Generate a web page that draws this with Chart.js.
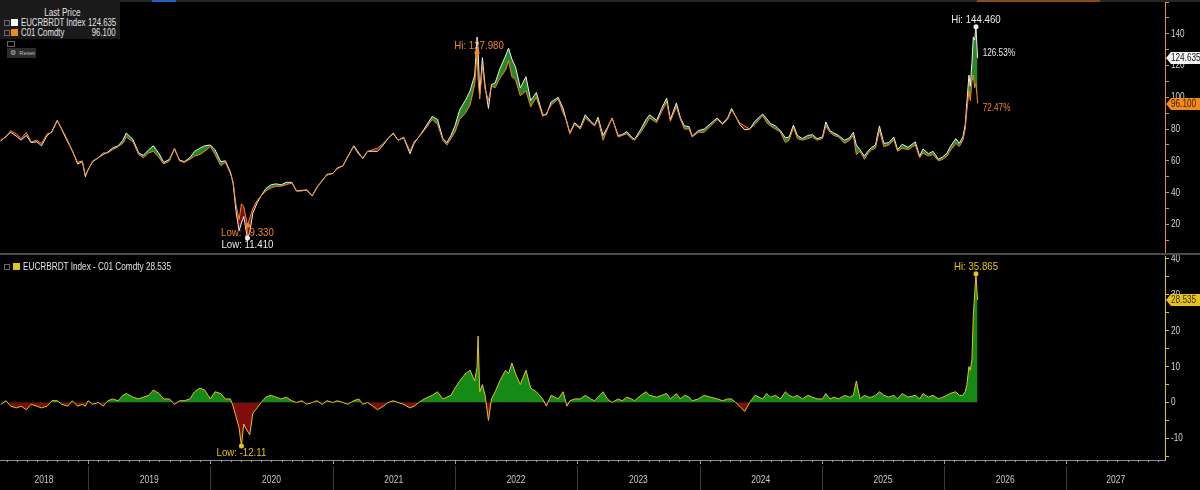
<!DOCTYPE html>
<html>
<head>
<meta charset="utf-8">
<script src="https://cdn.jsdelivr.net/npm/chart.js"></script>
<style>
  html, body { margin: 0; padding: 0; background: #000; }
  body { width: 1200px; height: 490px; position: relative; overflow: hidden;
         font-family: 'Liberation Sans', Arial, sans-serif; }
  canvas { position: absolute; left: 0; }
  #topChart { top: 0; }
  #bottomChart { top: 254px; }
  .abs { position: absolute; }
  .cn { display: inline-block; white-space: nowrap; transform: scaleX(0.78); transform-origin: 0 50%; }
  #lastPrice { left: 0; top: 0; width: 120px; height: 39px; background: #1a1a1a; color: #e4e4e4; }
  #lastPrice .hdr { left: 0; width: 124px; top: 7px; text-align: center; font-size: 10.5px; line-height: 11px; }
  #lastPrice .hdr .cn { transform-origin: 50% 50%; }
  .row { left: 0; width: 116px; height: 10px; font-size: 10px; line-height: 10px; color: #e4e4e4; }
  .row .name { position: absolute; left: 21px; top: 0; }
  .row .val { position: absolute; right: 0; top: 0; transform-origin: 100% 50%; }
  .chk { position: absolute; left: 4px; top: 2px; width: 4px; height: 4px; border: 1px solid #6a6a6a; }
  .sw { position: absolute; left: 11px; top: 1px; width: 7px; height: 7px; }
  #reset { left: 7px; top: 48px; width: 29px; height: 10px; background: #2b2b2b; color: #bbb; font-size: 6px; line-height: 10px; }
  #sep { left: 0; top: 253px; width: 1200px; height: 2px; background: #4b4b4b; }
</style>
</head>
<body>
<canvas id="topChart" width="1200" height="254"></canvas>
<canvas id="bottomChart" width="1200" height="236"></canvas>

<div class="abs" style="left:0;top:0;width:1200px;height:2px;background:#262626"></div>
<div class="abs" style="left:152px;top:0;width:24px;height:2px;background:#2160c4"></div>
<div class="abs" style="left:977px;top:0;width:123px;height:2px;background:#8a4a16"></div>
<div id="sep" class="abs"></div>

<div id="lastPrice" class="abs">
  <div class="hdr abs"><span class="cn">Last Price</span></div>
</div>
<div class="abs" style="left:7px;top:41px;width:6px;height:4px;border:1px solid #666"></div>
<div id="reset" class="abs"><span style="font-size:7px;margin-left:3px">&#9881;</span>&nbsp;&nbsp;Reset</div>

<script>
// ---- data ----
const dates = [
  '2018-04-15','2018-05-01','2018-05-15','2018-06-01','2018-06-15','2018-07-01','2018-07-15','2018-08-01','2018-08-15','2018-09-01','2018-09-15','2018-10-01','2018-10-15','2018-11-01','2018-11-15','2018-12-01','2018-12-15','2018-12-24',
  '2019-01-01','2019-01-15','2019-02-01','2019-02-15','2019-03-01','2019-03-15','2019-04-01','2019-04-15','2019-04-25','2019-05-15','2019-06-01','2019-06-15','2019-07-01','2019-07-15','2019-08-01','2019-08-15','2019-09-01','2019-09-16','2019-10-01','2019-10-15','2019-11-01','2019-11-15','2019-12-01','2019-12-15',
  '2020-01-01','2020-01-15','2020-02-01','2020-02-15','2020-03-01','2020-03-09','2020-03-18','2020-03-27','2020-04-03','2020-04-10','2020-04-21','2020-04-28','2020-05-07','2020-05-20','2020-06-01','2020-06-15','2020-07-01','2020-07-15','2020-08-01','2020-08-15','2020-09-01','2020-09-15','2020-10-01','2020-10-15','2020-11-01','2020-11-15','2020-12-01','2020-12-15',
  '2021-01-01','2021-01-15','2021-02-01','2021-02-15','2021-03-05','2021-03-20','2021-04-01','2021-04-15','2021-05-01','2021-05-15','2021-06-01','2021-06-15','2021-07-01','2021-07-15','2021-08-01','2021-08-20','2021-09-01','2021-09-15','2021-10-01','2021-10-25','2021-11-10','2021-11-26','2021-12-08','2021-12-20',
  '2022-01-01','2022-01-15','2022-02-01','2022-02-15','2022-03-01','2022-03-08','2022-03-11','2022-03-16','2022-03-24','2022-04-01','2022-04-11','2022-04-20','2022-05-01','2022-05-15','2022-06-01','2022-06-10','2022-06-20','2022-07-01','2022-07-15','2022-08-01','2022-08-15','2022-09-01','2022-09-20','2022-10-01','2022-10-15','2022-11-05','2022-11-20','2022-12-01','2022-12-10','2022-12-24',
  '2023-01-10','2023-01-25','2023-02-10','2023-02-22','2023-03-04','2023-03-19','2023-04-01','2023-04-15','2023-05-03','2023-05-15','2023-05-29','2023-06-12','2023-06-21','2023-07-10','2023-07-25','2023-08-05','2023-08-26','2023-09-10','2023-09-25','2023-10-06','2023-10-24','2023-11-05','2023-11-17','2023-12-01','2023-12-10','2023-12-28',
  '2024-01-15','2024-02-03','2024-02-23','2024-03-10','2024-03-25','2024-04-06','2024-04-18','2024-04-30','2024-05-15','2024-05-30','2024-06-15','2024-07-08','2024-07-20','2024-07-31','2024-08-15','2024-08-30','2024-09-14','2024-09-25','2024-10-08','2024-10-20','2024-11-04','2024-11-20','2024-12-04','2024-12-18',
  '2025-01-03','2025-01-13','2025-01-25','2025-02-06','2025-02-20','2025-03-10','2025-03-25','2025-04-05','2025-04-14','2025-04-25','2025-05-08','2025-05-20','2025-05-30','2025-06-10','2025-06-22','2025-07-05','2025-07-20','2025-08-04','2025-08-15','2025-08-29','2025-09-15','2025-10-07','2025-10-20','2025-10-30','2025-11-15','2025-11-29','2025-12-15','2025-12-28',
  '2026-01-10','2026-01-18','2026-02-05','2026-02-15','2026-02-26','2026-03-05','2026-03-10','2026-03-16','2026-03-20','2026-03-25','2026-03-29','2026-04-02','2026-04-06','2026-04-09','2026-04-11'
];

// C01 Comdty (orange)
const brent = [
  73,75,79,77,74,78,72,73,71,77,78,85,80,73,66,59,60,51,
  54,60,62,65,65,67,69,71,75,72,64,62,65,66,62,58,60,68,60,59,61,63,64,66,
  69,64,57,59,52,47,32,23,33,31,19.33,24,30,35,38,41,43,44,44,45,46,41,41,42,38,43,48,51,
  52,55,57,63,69,64,62,66,67,68,71,74,77,73,75,66,72,75,79,86,83,73,70,74,
  78,86,90,95,108,127.98,112,99,120,105,98,107,106,112,117,123,113,111,101,104,94,100,88,90,95,99,90,85,77,83,
  80,87,84,82,86,73,80,87,75,76,77,74,73,78,83,87,84,91,97,85,94,86,80,80,75,78,
  78,82,86,83,86,92,88,84,82,80,83,88.5,84,82,80,78,71.5,73,81,74,73,74,75,73,
  74,82,78,76,75,71,73,76,64,66,61,65,67,68,79,69,70,73,66,68,67,70,62,65,63,64,60,61,
  63,66,71,69,73,80,92,104,98,110,114,106,108.595,101,96.1
];

// EUCRBRDT Index (white)
const eucrbrdt = [
  72.5,75.5,78,75.5,73,76,71.5,72,69.5,76,78.5,85.5,79.5,72,66.5,58,59.5,50,
  54.5,59.5,62,64,65.5,68,69.5,73,77.5,73.5,65,63.5,67,69.5,64.5,59,61,67.5,60.5,59.5,62,66,68,69.5,
  70,67,59.5,60,53,46,28,16,20.89,25,11.41,15,27,33.5,38,42.5,45,45.5,45,46.5,46.5,41,41.5,41.5,38,43.5,47.5,51.5,
  52,55.5,57,62.5,69.5,65,61.5,66,66,66,70,74,77.5,73,74.5,64.5,71,75,80,88,86,74,71.5,76,
  82,92,98,104,114,137.98,130.5,102,125,107,93,108,109,118,126,131,124,119,106,113,98,103,89,89,97,100,93,84,77.5,84,
  81,89,85,82.5,87.5,76,81,87,76,76.5,78.5,75,73.5,80,86,89,85.5,93,99.5,86,96.5,87,82,81.5,75.5,79,
  80,83.5,87,83.5,87,93,88,83,79.5,80,85,89.5,86.5,83.5,82,79,74.5,75,82.5,76,74,76,76.5,74,
  75,84.5,79,77.5,76,73,74.5,78,70,67,63,66.5,68.5,70,82,71,71.5,75,67,70.5,68.5,72,63,67.5,64.5,66,61,62.5,
  65,68.5,74,71,75,83,97,114,107,122,138,136,144.46,132,124.635
];

// EUCRBRDT Index - C01 Comdty
const spread = [
  -0.5,0.5,-1,-1.5,-1,-2,-0.5,-1,-1.5,-1,0.5,0.5,-0.5,-1,0.5,-1,-0.5,-1,
  0.5,-0.5,0,-1,0.5,1,0.5,2,2.5,1.5,1,1.5,2,3.5,2.5,1,1,-0.5,0.5,0.5,1,3,4,3.5,
  1,3,2.5,1,1,-1,-4,-7,-12.11,-6,-7.92,-9,-3,-1.5,0,1.5,2,1.5,1,1.5,0.5,0,0.5,-0.5,0,0.5,-0.5,0.5,
  0,0.5,0,-0.5,0.5,1,-0.5,0,-1,-2,-1,0,0.5,0,-0.5,-1.5,-1,0,1,2,3,1,1.5,2,
  4,6,8,9,6,10,18.5,3,5,2,-5,1,3,6,9,8,11,8,5,9,4,3,1,-1,2,1,3,-1,0.5,1,
  1,2,1,0.5,1.5,3,1,0,1,0.5,1.5,1,0.5,2,3,2,1.5,2,2.5,1,2.5,1,2,1.5,0.5,1,
  2,1.5,1,0.5,1,1,0,-1,-2.5,0,2,1,2.5,1.5,2,1,3,2,1.5,2,1,2,1.5,1,
  1,2.5,1,1.5,1,2,1.5,2,6,1,2,1.5,1.5,2,3,2,1.5,2,1,2.5,1.5,2,1,2.5,1.5,2,1,1.5,
  2,2.5,3,2,2,3,5,10,9,12,24,30,35.865,31,28.535
];

const seriesNames = ['EUCRBRDT Index', 'C01 Comdty'];
const spreadName = 'EUCRBRDT Index - C01 Comdty';
const pctLabels = ['126.53%', '72.47%'];
const yearLabels = ['2018','2019','2020','2021','2022','2023','2024','2025','2026','2027'];
const topTicks = [10,20,30,40,50,60,70,80,90,100,110,120,130,140,150,160];
const topLabels = [20,40,60,80,100,120,140];
const bottomTicks = [-15,-10,-5,0,5,10,15,20,25,30,35,40];
const bottomLabels = [-10,0,10,20,30,40];

// ---- styling ----
const FONT = "'Liberation Sans', Arial, sans-serif";
const NARROW = 0.78;   // squeeze to mimic the terminal's condensed face
const ORANGE = '#f08a1e';
const WHITE = '#ececec';
const YELLOW = '#e6c21c';
const GREEN_TOP = 'rgba(46,150,40,0.9)';
const GREEN = 'rgb(22,138,22)';
const RED = 'rgb(128,12,14)';
const X_MIN = 2018.28;
const X_MAX = 2027.806;

function toYear(s) {
  const d = new Date(s + 'T00:00:00Z');
  const y = d.getUTCFullYear();
  const a = Date.UTC(y, 0, 1), b = Date.UTC(y + 1, 0, 1);
  return y + (d.getTime() - a) / (b - a);
}
function points(vals) {
  return dates.map((d, i) => ({ x: toYear(d), y: vals[i] }));
}

function narrowText(ctx, text, x, y, size, color, align, sx) {
  ctx.save();
  ctx.font = size + 'px ' + FONT;
  ctx.fillStyle = color;
  ctx.textAlign = align || 'left';
  ctx.textBaseline = 'middle';
  ctx.translate(x, y);
  ctx.scale(sx || NARROW, 1);
  ctx.fillText(text, 0, 0);
  ctx.restore();
}

// legends as real text
function addRow(parent, top, color, name, value) {
  const row = document.createElement('div');
  row.className = 'row abs';
  row.style.top = top + 'px';
  row.innerHTML = '<div class="chk"></div><div class="sw" style="background:' + color + '"></div>' +
    '<span class="name cn"></span><span class="val cn"></span>';
  row.querySelector('.name').textContent = name;
  row.querySelector('.val').textContent = value;
  parent.appendChild(row);
}
const lp = document.getElementById('lastPrice');
addRow(lp, 18, '#ffffff', seriesNames[0], eucrbrdt[eucrbrdt.length - 1].toFixed(3));
addRow(lp, 28, ORANGE, seriesNames[1], brent[brent.length - 1].toFixed(3));

const sl = document.createElement('div');
sl.className = 'row abs';
sl.style.cssText = 'top:262px;width:200px;';
sl.innerHTML = '<div class="chk"></div><div class="sw" style="background:' + YELLOW + ';top:1px;left:13px"></div><span class="name cn" style="left:23px;transform:scaleX(0.82)"></span>';
sl.querySelector('.name').textContent = spreadName + ' ' + spread[spread.length - 1].toFixed(3);
document.body.appendChild(sl);

// ---- plugins ----
const markerPlugin = {
  id: 'markers',
  afterDatasetsDraw(chart, args, opts) {
    const ctx = chart.ctx, xs = chart.scales.x, ys = chart.scales.y;
    (opts.items || []).forEach(m => {
      const pts = chart.data.datasets[m.dataset].data;
      let best = 0;
      pts.forEach((p, i) => {
        if (m.kind === 'max' ? p.y > pts[best].y : p.y < pts[best].y) best = i;
      });
      const px = xs.getPixelForValue(pts[best].x);
      const py = ys.getPixelForValue(pts[best].y);
      ctx.save();
      ctx.fillStyle = m.color;
      ctx.beginPath();
      ctx.arc(px, py, 2.5, 0, Math.PI * 2);
      ctx.fill();
      ctx.restore();
      narrowText(ctx, m.prefix + pts[best].y.toFixed(m.digits), px + (m.dx || 0),
        py + (m.kind === 'max' ? -7 : 7), 11, m.color, 'center', 0.88);
    });
    (opts.notes || []).forEach(n => {
      const pts = chart.data.datasets[n.dataset].data;
      const last = pts[pts.length - 1];
      narrowText(ctx, n.text, xs.getPixelForValue(last.x) + 5, ys.getPixelForValue(last.y) + n.dy, 10.5, n.color, 'left');
    });
  }
};

const badgePlugin = {
  id: 'badges',
  afterDraw(chart, args, opts) {
    const ctx = chart.ctx, ys = chart.scales.y, area = chart.chartArea;
    // axis labels, placed from the scale's own ticks
    ys.ticks.forEach(t => {
      if (!opts.labels.includes(t.value)) return;
      narrowText(ctx, String(t.value), area.right + 6, ys.getPixelForValue(t.value), 10.5, '#d6d6d6', 'left');
    });
    const x0 = area.right + 1;
    (opts.items || []).forEach(b => {
      const pts = chart.data.datasets[b.dataset].data;
      const v = pts[pts.length - 1].y;
      const y = Math.round(ys.getPixelForValue(v));
      ctx.save();
      ctx.fillStyle = b.bg;
      ctx.beginPath();
      ctx.moveTo(x0, y);
      ctx.lineTo(x0 + 5, y - 6);
      ctx.lineTo(chart.width, y - 6);
      ctx.lineTo(chart.width, y + 6);
      ctx.lineTo(x0 + 5, y + 6);
      ctx.closePath();
      ctx.fill();
      ctx.restore();
      narrowText(ctx, v.toFixed(3), x0 + 5, y + 0.5, 10.5, b.fg, 'left');
    });
  }
};

const yearBandPlugin = {
  id: 'yearBands',
  afterDraw(chart) {
    const ctx = chart.ctx, xs = chart.scales.x, area = chart.chartArea;
    ctx.save();
    ctx.lineWidth = 1;
    ctx.strokeStyle = '#3a3a3a';
    for (let y = Math.ceil(xs.min); y <= Math.floor(xs.max); y++) {
      const px = Math.round(xs.getPixelForValue(y)) + 0.5;
      ctx.beginPath();
      ctx.moveTo(px, area.bottom + 6);
      ctx.lineTo(px, chart.height);
      ctx.stroke();
    }
    ctx.strokeStyle = '#a0a0a0';
    for (let m = Math.ceil(xs.min * 12); m <= Math.floor(xs.max * 12); m++) {
      const px = Math.round(xs.getPixelForValue(m / 12)) + 0.5;
      ctx.beginPath();
      ctx.moveTo(px, area.bottom);
      ctx.lineTo(px, area.bottom + (m % 12 === 0 ? 4 : 2));
      ctx.stroke();
    }
    ctx.restore();
    xs.ticks.forEach((t, i) => {
      narrowText(ctx, yearLabels[i], xs.getPixelForValue(t.value), area.bottom + 20, 11.5, '#c8c8c8', 'center', 0.74);
    });
  }
};

function yAxis(ticks, min, max, color) {
  return {
    position: 'right', min: min, max: max,
    afterBuildTicks: s => { s.ticks = ticks.map(v => ({ value: v })); },
    afterFit: s => { s.width = 35; s.paddingTop = 0; s.paddingBottom = 0; },
    border: { color: color, width: 1 },
    grid: { drawOnChartArea: false, tickLength: 4, color: color },
    ticks: { display: false }
  };
}

const common = {
  responsive: false, animation: false, events: [],
  elements: { point: { radius: 0 }, line: { tension: 0, borderWidth: 1 } }
};

new Chart(document.getElementById('topChart'), {
  type: 'line',
  data: {
    datasets: [
      { label: seriesNames[1], data: points(brent), borderColor: ORANGE, fill: false },
      { label: seriesNames[0], data: points(eucrbrdt), borderColor: WHITE,
        fill: { target: 0, above: GREEN_TOP, below: RED } }
    ]
  },
  options: Object.assign({}, common, {
    layout: { padding: { top: 2, bottom: 1, left: 0, right: 0 } },
    plugins: {
      legend: { display: false }, tooltip: { enabled: false },
      markers: {
        items: [
          { dataset: 1, kind: 'max', color: WHITE, prefix: 'Hi: ', digits: 3 },
          { dataset: 0, kind: 'max', color: ORANGE, prefix: 'Hi: ', digits: 3, dx: 2 },
          { dataset: 0, kind: 'min', color: ORANGE, prefix: 'Low: ', digits: 3 },
          { dataset: 1, kind: 'min', color: WHITE, prefix: 'Low: ', digits: 3 }
        ],
        notes: [
          { dataset: 1, text: pctLabels[0], color: WHITE, dy: -5 },
          { dataset: 0, text: pctLabels[1], color: ORANGE, dy: 5 }
        ]
      },
      badges: {
        labels: topLabels,
        items: [
          { dataset: 1, bg: '#f4f4f4', fg: '#111' },
          { dataset: 0, bg: ORANGE, fg: '#3b1a00' }
        ]
      }
    },
    scales: {
      x: { type: 'linear', min: X_MIN, max: X_MAX, display: false },
      y: yAxis(topTicks, 2, 160, ORANGE)
    }
  }),
  plugins: [markerPlugin, badgePlugin]
});

new Chart(document.getElementById('bottomChart'), {
  type: 'line',
  data: {
    datasets: [
      { label: spreadName, data: points(spread), borderColor: YELLOW,
        fill: { target: { value: 0 }, above: GREEN, below: RED } }
    ]
  },
  options: Object.assign({}, common, {
    layout: { padding: { top: 2, bottom: 0, left: 0, right: 0 } },
    plugins: {
      legend: { display: false }, tooltip: { enabled: false },
      markers: {
        items: [
          { dataset: 0, kind: 'max', color: YELLOW, prefix: 'Hi: ', digits: 3 },
          { dataset: 0, kind: 'min', color: YELLOW, prefix: 'Low: ', digits: 2 }
        ]
      },
      badges: { labels: bottomLabels, items: [ { dataset: 0, bg: YELLOW, fg: '#3a3000' } ] }
    },
    scales: {
      x: {
        type: 'linear', min: X_MIN, max: X_MAX, position: 'bottom',
        afterBuildTicks: s => {
          s.ticks = yearLabels.map(y => {
            const a = Math.max(+y, s.min), b = Math.min(+y + 1, s.max);
            return { value: (a + b) / 2 };
          });
        },
        afterFit: s => { s.height = 30; s.paddingLeft = 0; s.paddingRight = 0; },
        border: { color: '#8c8c8c', width: 1 },
        grid: { drawOnChartArea: false, drawTicks: false },
        ticks: { display: false }
      },
      y: yAxis(bottomTicks, -16, 40.8, YELLOW)
    }
  }),
  plugins: [markerPlugin, badgePlugin, yearBandPlugin]
});
</script>
</body>
</html>
